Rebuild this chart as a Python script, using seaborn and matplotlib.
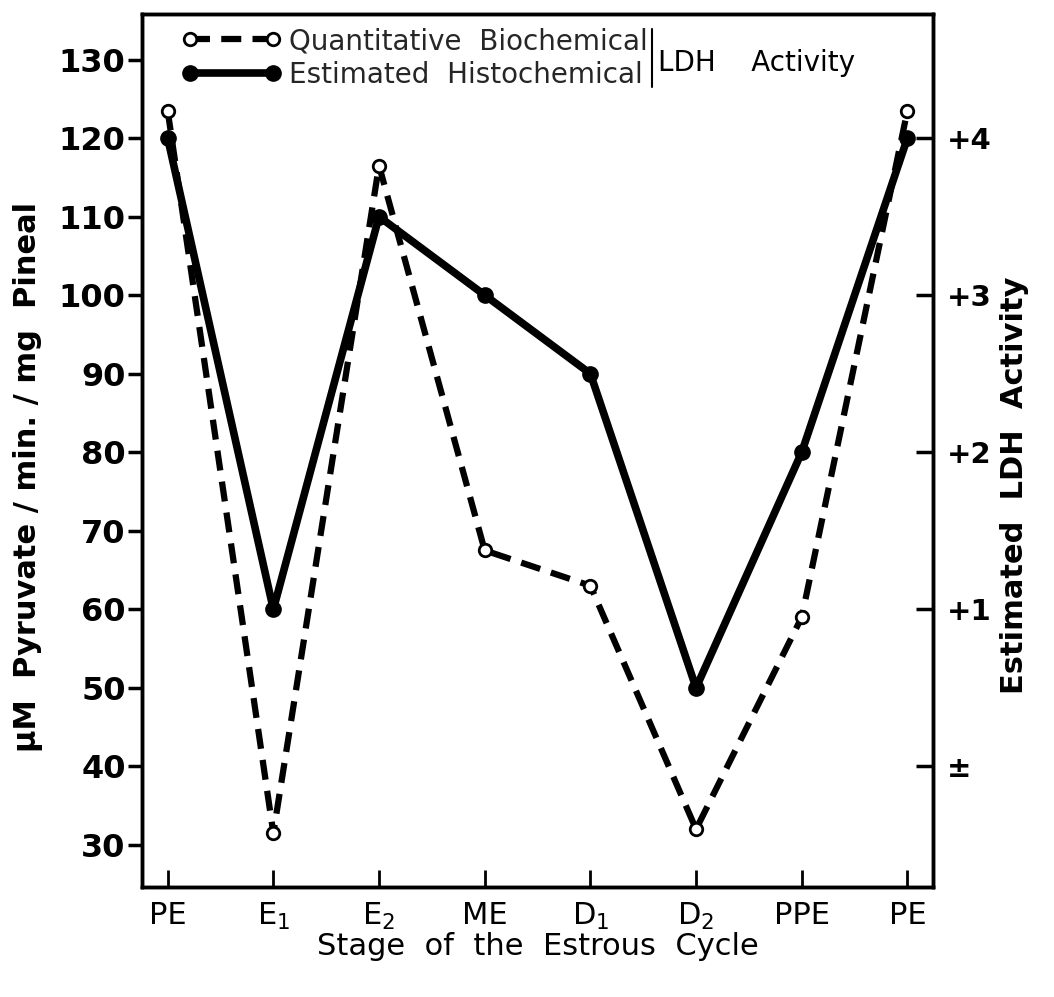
import numpy as np
import pandas as pd
import matplotlib
matplotlib.use("Agg")
import matplotlib.pyplot as plt
from matplotlib.lines import Line2D
import seaborn as sns

# ---- data ----
stages = ["PE", r"$\mathregular{E_1}$", r"$\mathregular{E_2}$", "ME",
          r"$\mathregular{D_1}$", r"$\mathregular{D_2}$", "PPE", "PE"]
biochemical = [123.5, 31.5, 116.5, 67.5, 63.0, 32.0, 59.0, 123.5]   # left axis
histochemical = [4.0, 1.0, 3.5, 3.0, 2.5, 0.5, 2.0, 4.0]            # right axis
left_ticks = [30, 40, 50, 60, 70, 80, 90, 100, 110, 120, 130]
right_ticks = [0, 1, 2, 3, 4]
right_labels = ["±", "+1", "+2", "+3", "+4"]
label_bio = "Quantitative  Biochemical"
label_hist = "Estimated  Histochemical"

sns.set_theme(style="ticks")
plt.rcParams['font.family'] = ['DejaVu Sans']
plt.rcParams['axes.linewidth'] = 2.5

fig = plt.figure(figsize=(10.54, 9.97), dpi=100)
ax = fig.add_axes([0.135, 0.11, 0.75, 0.876])
ax2 = ax.twinx()

pos = np.arange(len(stages))
df = pd.DataFrame({"pos": pos, "bio": biochemical, "hist": histochemical})

dash_style = (0, (3.2, 1.8))
sns.lineplot(data=df, x="pos", y="bio", ax=ax, color="black", lw=4.5,
             linestyle=dash_style, marker="o", markersize=9,
             markerfacecolor="white", markeredgecolor="black",
             markeredgewidth=2, zorder=3)
sns.lineplot(data=df, x="pos", y="hist", ax=ax2, color="black", lw=5.5,
             marker="o", markersize=11, markerfacecolor="black",
             markeredgecolor="black", markeredgewidth=1, zorder=2)

ax.set_xlim(-0.24, len(stages) - 1 + 0.24)
ax.set_ylim(24.6, 135.8)
ax2.set_ylim((24.6 - 40) / 20, (135.8 - 40) / 20)

ax.set_xticks(pos)
ax.set_xticklabels(stages)
ax.set_yticks(left_ticks)
ax.set_yticklabels([str(t) for t in left_ticks])
ax2.yaxis.set_ticks_position('right')
ax2.set_yticks(right_ticks)
ax2.set_yticklabels(right_labels)

ax.tick_params(axis='y', which='both', direction='out', length=10, width=2.5,
               labelsize=23, pad=2, colors='black', left=True, right=False)
ax.tick_params(axis='x', which='both', direction='in', length=12, width=2,
               labelsize=22, pad=10, colors='black', bottom=True, top=False)
ax2.tick_params(axis='y', which='both', direction='in', length=12, width=2.5,
                labelsize=21, pad=10, colors='black', right=True, left=False)
for lab in ax.get_yticklabels() + ax2.get_yticklabels():
    lab.set_fontweight('bold')

for a in (ax, ax2):
    for s in a.spines.values():
        s.set_linewidth(2.5)
        s.set_color('black')

ax.set_xlabel("Stage  of  the  Estrous  Cycle", fontsize=22, labelpad=0,
              color='black')
ax.set_ylabel("μM  Pyruvate / min. / mg  Pineal", fontsize=22,
              fontweight='bold', color='black')
ax.yaxis.set_label_coords(-0.125, 0.47)
ax2.set_ylabel("Estimated  LDH  Activity", fontsize=22, fontweight='bold',
               color='black')
ax2.yaxis.set_label_coords(1.085, 0.46)

handles = [
    Line2D([], [], color='black', lw=4.5, linestyle=dash_style, marker='o',
           markersize=9, markerfacecolor='white', markeredgecolor='black',
           markeredgewidth=2),
    Line2D([], [], color='black', lw=5.5, marker='o', markersize=11,
           markerfacecolor='black', markeredgecolor='black'),
]
leg = ax2.legend(handles, [label_bio, label_hist], loc='upper left',
                 bbox_to_anchor=(0.05, 0.985), borderaxespad=0, borderpad=0,
                 frameon=False, fontsize=20, handlelength=3.6,
                 handletextpad=0.25, labelspacing=0.2, numpoints=2)

fig.canvas.draw()
renderer = fig.canvas.get_renderer()
bbs = [t.get_window_extent(renderer) for t in leg.get_texts()]
inv = fig.transFigure.inverted()
x_bar = max(b.x1 for b in bbs) + 4
y_top = bbs[0].y1 - 2
y_bot = bbs[1].y0 + 2
(fx, fy0) = inv.transform((x_bar, y_bot))
(_, fy1) = inv.transform((x_bar, y_top))
fig.add_artist(Line2D([fx, fx], [fy0, fy1], color='black', lw=1.5,
                      transform=fig.transFigure))
ymid = (bbs[0].y0 + bbs[1].y0) / 2 + (bbs[1].y1 - bbs[1].y0) * 0.3
(tx, ty) = inv.transform((x_bar + 6, ymid))
fig.text(tx, ty, "LDH    Activity", fontsize=20, ha='left', va='center',
         color='black')

fig.savefig("out.png", dpi=100)
